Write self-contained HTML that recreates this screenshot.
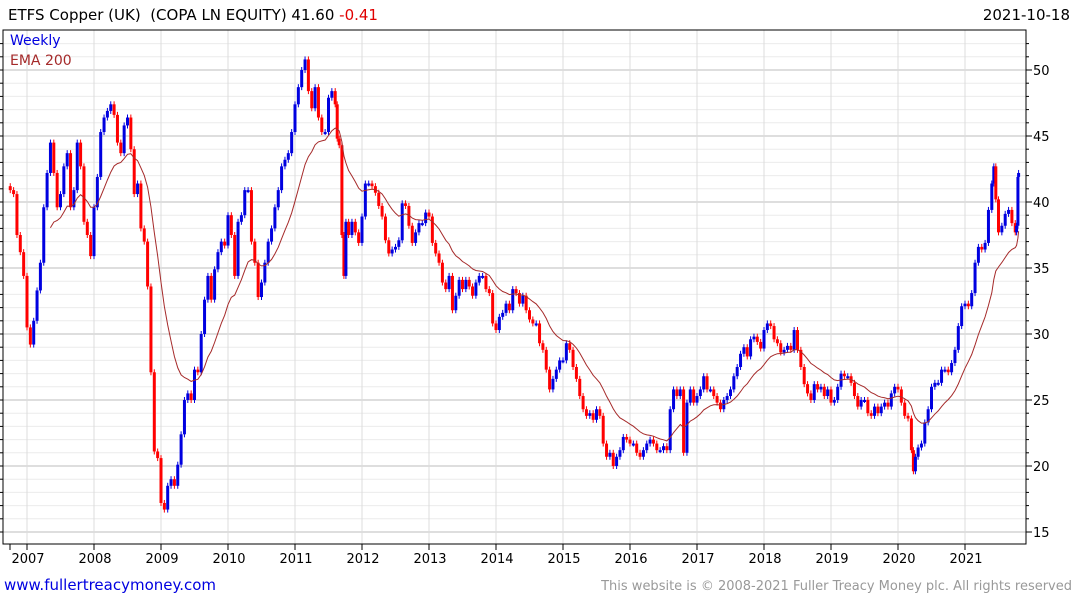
<!DOCTYPE html>
<html><head><meta charset="utf-8"><style>
body{margin:0;background:#fff;width:1075px;height:600px;overflow:hidden;font-family:"DejaVu Sans","Liberation Sans",sans-serif}
svg{position:absolute;left:0;top:0}
</style></head><body>
<svg id="c" width="1075" height="600">
<defs><clipPath id="pc"><rect x="3" y="30" width="1023" height="514"/></clipPath></defs>
<text x="8" y="20" font-size="15" fill="#000" xml:space="preserve">ETFS Copper (UK)&#160; (COPA LN EQUITY) 41.60 <tspan fill="#e00000">-0.41</tspan></text>
<text x="1070" y="20" font-size="15" fill="#000" text-anchor="end">2021-10-18</text>
<g id="grid"></g><g id="marks" clip-path="url(#pc)"></g>
<rect x="3" y="30" width="1023" height="514" fill="none" stroke="#000" stroke-width="1"/>
<text x="10" y="45" font-size="14" fill="#0000e0">Weekly</text>
<text x="10" y="65" font-size="14" fill="#a52a2a">EMA 200</text>
<text x="4" y="590" font-size="15" fill="#0000e0">www.fullertreacymoney.com</text>
<text x="1072" y="590" font-size="13" fill="#999" text-anchor="end">This website is © 2008-2021 Fuller Treacy Money plc. All rights reserved</text>
</svg>
<script>
const yearTicks=[2007,2008,2009,2010,2011,2012,2013,2014,2015,2016,2017,2018,2019,2020,2021];
const priceTicks=[15,20,25,30,35,40,45,50];
const dates=[2006.75,2006.8,2006.85,2006.9,2006.95,2007.0,2007.05,2007.1,2007.15,2007.2,2007.25,2007.3,2007.35,2007.4,2007.45,2007.5,2007.55,2007.6,2007.65,2007.7,2007.75,2007.8,2007.85,2007.9,2007.95,2008.0,2008.05,2008.1,2008.15,2008.2,2008.25,2008.3,2008.35,2008.4,2008.45,2008.5,2008.55,2008.6,2008.65,2008.7,2008.75,2008.8,2008.85,2008.9,2008.95,2009.0,2009.05,2009.1,2009.15,2009.2,2009.25,2009.3,2009.35,2009.4,2009.45,2009.5,2009.55,2009.6,2009.65,2009.7,2009.75,2009.8,2009.85,2009.9,2009.95,2010.0,2010.05,2010.1,2010.15,2010.2,2010.25,2010.3,2010.35,2010.4,2010.45,2010.5,2010.55,2010.6,2010.65,2010.7,2010.75,2010.8,2010.85,2010.9,2010.95,2011.0,2011.05,2011.1,2011.15,2011.2,2011.25,2011.3,2011.35,2011.4,2011.45,2011.5,2011.55,2011.6,2011.63,2011.66,2011.7,2011.73,2011.76,2011.8,2011.85,2011.9,2011.95,2012.0,2012.05,2012.1,2012.15,2012.2,2012.25,2012.3,2012.35,2012.4,2012.45,2012.5,2012.55,2012.6,2012.65,2012.7,2012.75,2012.8,2012.85,2012.9,2012.95,2013.0,2013.05,2013.1,2013.15,2013.2,2013.25,2013.3,2013.35,2013.4,2013.45,2013.5,2013.55,2013.6,2013.65,2013.7,2013.75,2013.8,2013.85,2013.9,2013.95,2014.0,2014.05,2014.1,2014.15,2014.2,2014.25,2014.3,2014.35,2014.4,2014.45,2014.5,2014.55,2014.6,2014.65,2014.7,2014.75,2014.8,2014.85,2014.9,2014.95,2015.0,2015.05,2015.1,2015.15,2015.2,2015.25,2015.3,2015.35,2015.4,2015.45,2015.5,2015.55,2015.6,2015.65,2015.7,2015.75,2015.8,2015.85,2015.9,2015.95,2016.0,2016.05,2016.1,2016.15,2016.2,2016.25,2016.3,2016.35,2016.4,2016.45,2016.5,2016.55,2016.6,2016.65,2016.7,2016.75,2016.8,2016.85,2016.9,2016.95,2017.0,2017.05,2017.1,2017.15,2017.2,2017.25,2017.3,2017.35,2017.4,2017.45,2017.5,2017.55,2017.6,2017.65,2017.7,2017.75,2017.8,2017.85,2017.9,2017.95,2018.0,2018.05,2018.1,2018.15,2018.2,2018.25,2018.3,2018.35,2018.4,2018.45,2018.5,2018.55,2018.6,2018.65,2018.7,2018.75,2018.8,2018.85,2018.9,2018.95,2019.0,2019.05,2019.1,2019.15,2019.2,2019.25,2019.3,2019.35,2019.4,2019.45,2019.5,2019.55,2019.6,2019.65,2019.7,2019.75,2019.8,2019.85,2019.9,2019.95,2020.0,2020.05,2020.1,2020.15,2020.2,2020.23,2020.26,2020.3,2020.35,2020.4,2020.45,2020.5,2020.55,2020.6,2020.65,2020.7,2020.75,2020.8,2020.85,2020.9,2020.95,2021.0,2021.05,2021.1,2021.15,2021.2,2021.25,2021.3,2021.35,2021.4,2021.43,2021.46,2021.5,2021.55,2021.6,2021.65,2021.7,2021.75,2021.77,2021.79,2021.8];
const closes=[40.9,40.6,37.5,36.2,34.4,30.5,29.2,31,33.3,35.4,39.6,42.2,44.5,42.2,39.6,40.6,42.7,43.7,39.6,40.9,44.5,42.7,38.5,37.5,35.9,39.6,41.9,45.3,46.4,46.9,47.4,46.6,44.5,43.7,45.8,46.4,44,40.6,41.4,38,37,33.6,27.1,21.1,20.6,17.2,16.7,18.5,19,18.5,20.1,22.4,25,25.5,25,27.3,27.1,30,32.6,34.4,32.6,34.9,36.2,37,36.7,39,37.5,34.4,38.5,39,40.9,40.9,37,35.4,32.8,33.9,35.4,37,38,39.6,40.9,42.7,43.2,43.7,45.3,47.4,48.7,50,50.8,48.4,47.1,48.7,46.4,45.3,45.3,47.9,48.4,47.4,44.8,44.3,37.5,34.4,38.5,37.5,38.5,37.7,36.9,38.9,41.4,41.4,41.2,40.7,39.7,38.9,37.1,36.1,36.4,36.6,37.1,39.9,39.7,38.2,36.9,37.7,38.4,38.4,39.2,38.9,36.9,36.1,35.4,33.9,33.4,34.4,31.8,32.9,34.1,33.4,34.1,33.6,32.9,33.9,34.4,34.4,33.4,33.1,30.8,30.3,31.3,31.6,32.3,31.8,33.4,33.1,32.3,32.9,31.8,31.1,30.8,30.8,29.3,28.8,27.3,25.8,26.6,27.3,28,28,29.3,28.8,27.5,26.6,25.3,24.3,23.8,24,23.5,24.3,23.8,21.7,20.7,21,20,20.7,21.2,22.2,22,21.7,21.7,21,20.7,21.2,21.7,22,21.7,21.2,21.2,21.5,21.2,24.3,25.8,25.3,25.8,21,24.8,25.8,24.8,25.3,25.8,26.8,25.8,25.8,25.3,24.8,24.3,25,25.3,25.8,26.8,27.5,28.5,29,28.3,29.6,29.8,29.4,28.9,30.3,30.8,30.6,29.6,29.3,28.6,28.8,29.1,28.8,30.3,28.8,27.5,26.2,25.5,25,26.2,25.8,26,25.3,25.8,24.8,25,26,27,26.8,26.8,26.3,25.3,24.5,25,25,24,23.8,24.5,24,24.5,24.8,24.5,25.5,26,25.8,24.8,23.8,23.6,21.2,19.6,20.7,21.4,21.7,23.3,24.3,26,26.3,26.3,27.3,27.3,27.1,27.8,28.8,30.6,32.1,32.3,32.1,33.1,35.4,36.6,36.4,36.9,39.4,41.4,42.7,40.2,37.7,38.2,39.1,39.4,38.4,37.7,38.2,41.9,42.2,41.6];
const NS="http://www.w3.org/2000/svg";
const X0=3,X1=1026,Y0=30,Y1=544;
function xs(t){return 27+(t-2007)*67.0;}
function ys(p){return 202-(p-40)*13.2;}
function mk(tag,attrs,parent){const e=document.createElementNS(NS,tag);for(const k in attrs)e.setAttribute(k,attrs[k]);parent.appendChild(e);return e;}
const grid=document.getElementById('grid'),marks=document.getElementById('marks');
for(let p=15;p<=52;p++){const y=ys(p);if(y<Y0||y>Y1)continue;
 const l=mk('line',{x1:X0,x2:X1,y1:y,y2:y,stroke:p%5===0?'#bdbdbd':'#ececec','stroke-width':1},grid);
 
 
 const tk=mk('line',{x1:X1,x2:X1+(p%5===0?6:3),y1:y,y2:y,stroke:'#000'},grid);
 
 
 const tl=mk('line',{x1:0,x2:X0,y1:y,y2:y,stroke:'#000'},grid);
 
 }
priceTicks.forEach(p=>{const t=mk('text',{x:1033,y:ys(p)+5,'font-size':13,fill:'#000'},grid);t.textContent=p;
 
 });
yearTicks.forEach(yr=>{const x=xs(yr);
 const l=mk('line',{x1:x,x2:x,y1:Y0,y2:Y1,stroke:'#dcdcdc'},grid);
 
 
 const tk=mk('line',{x1:x,x2:x,y1:Y1,y2:Y1+6,stroke:'#000'},grid);
 
 
 const t=mk('text',{x:x+1,y:563,'font-size':13,fill:'#000','text-anchor':'middle'},grid);t.textContent=yr;
 
 });
const tk0=mk('line',{x1:10,x2:10,y1:Y1,y2:Y1+6,stroke:'#000'},grid);


for(let i=0;i<closes.length;i++){
 const prev=i>0?closes[i-1]:closes[i]+0.3;const c=closes[i];
 const hi=Math.max(prev,c),lo=Math.min(prev,c);
 const up=c>=prev;const col=up?'#0000e0':'#ff0000';const x=xs(dates[i]);
 const w=mk('line',{x1:x,x2:x,y1:ys(hi)-3,y2:ys(lo)+3,stroke:col,'stroke-width':1},marks);
 
 
 const b=mk('rect',{x:x-1.5,y:ys(hi),width:3,height:Math.max(2,ys(lo)-ys(hi)),fill:col},marks);
 
 
}
let e=closes[0],pts=[];const a=2/(18+1);
for(let i=0;i<closes.length;i++){e=i===0?closes[0]:e+a*(closes[i]-e);if(i>=12)pts.push(xs(dates[i]).toFixed(1)+','+ys(e).toFixed(1));}
const pl=mk('polyline',{points:pts.join(' '),fill:'none',stroke:'#a52a2a','stroke-width':1},marks);


</script>
</body></html>
